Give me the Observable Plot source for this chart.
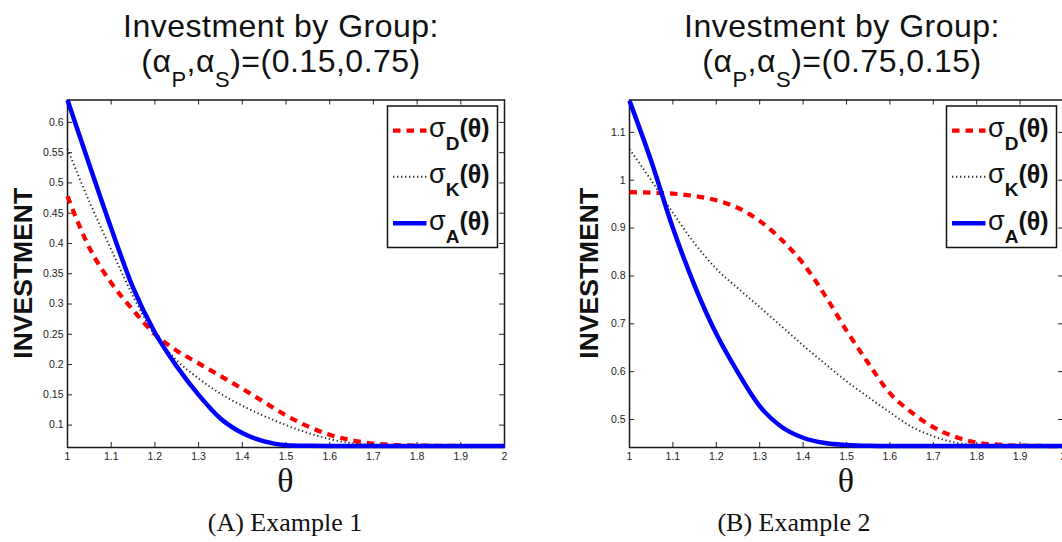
<!DOCTYPE html>
<html><head><meta charset="utf-8">
<script src="https://cdn.jsdelivr.net/npm/d3@7"></script>
<script src="https://cdn.jsdelivr.net/npm/@observablehq/plot@0.6"></script>
<style>
html,body{margin:0;padding:0;background:#fff;}
#wrap{position:relative;width:1062px;height:542px;overflow:hidden;background:#fff;}
.panel{position:absolute;top:90px;width:531px;}
.panel svg{max-width:none !important;}
#overlay{position:absolute;left:0;top:0;pointer-events:none;}
</style></head><body><div id="wrap"></div>
<script>
// ---- data ----
const theta = [1.00,1.05,1.10,1.15,1.20,1.25,1.30,1.35,1.40,1.45,1.50,1.55,1.60,1.65,1.70,1.75,1.80,1.85,1.90,1.95,2.00];

// Example 1: (alpha_P, alpha_S) = (0.15, 0.75)
const ex1D = [0.478,0.393,0.335,0.290,0.250,0.223,0.202,0.181,0.160,0.138,0.116,0.098,0.084,0.075,0.0695,0.067,0.0662,0.0658,0.0655,0.0655,0.0655];
const ex1K = [0.556,0.469,0.390,0.313,0.248,0.207,0.177,0.152,0.132,0.115,0.100,0.087,0.077,0.070,0.0675,0.0662,0.0657,0.0655,0.0655,0.0655,0.0655];
const ex1A = [0.637,0.530,0.425,0.327,0.253,0.197,0.150,0.111,0.087,0.073,0.0668,0.0658,0.0655,0.0655,0.0655,0.0655,0.0655,0.0655,0.0655,0.0655,0.0655];

// Example 2: (alpha_P, alpha_S) = (0.75, 0.15)
const ex2D = [0.975,0.974,0.972,0.967,0.958,0.942,0.915,0.876,0.826,0.760,0.686,0.618,0.555,0.515,0.484,0.464,0.452,0.4475,0.4455,0.4448,0.4445];
const ex2K = [1.065,1.000,0.932,0.868,0.815,0.774,0.735,0.695,0.655,0.617,0.580,0.547,0.515,0.485,0.465,0.452,0.4465,0.445,0.4445,0.4445,0.4445];
const ex2A = [1.166,1.040,0.900,0.780,0.679,0.598,0.528,0.485,0.462,0.451,0.4468,0.445,0.4445,0.4445,0.4445,0.4445,0.4445,0.4445,0.4445,0.4445,0.4445];

const xTicks = [1,1.1,1.2,1.3,1.4,1.5,1.6,1.7,1.8,1.9,2];
const yTicks1 = [0.1,0.15,0.2,0.25,0.3,0.35,0.4,0.45,0.5,0.55,0.6];
const yTicks2 = [0.5,0.6,0.7,0.8,0.9,1,1.1];
const yDomain1 = [0.063,0.637];
const yDomain2 = [0.4416,1.1676];

const alphaPairs = ["(0.15,0.75)","(0.75,0.15)"];
const captions = ["(A) Example 1","(B) Example 2"];
const yLabel = "INVESTMENT";
const xLabel = "θ";
const seriesKeys = ["D","K","A"];
const seriesColors = {D:"#ff0000", K:"#2a2a2a", A:"#0000ff"};
const seriesDash = {D:"7.5,6", K:"1.3,2.7", A:null};
const seriesWidth = {D:4.2, K:1.9, A:4.5};

// ---- layout ----
const W = 531, H = 420, MT = 9.5, MB = 63, ML = 67, TOP = 90;
const FONT = "'Liberation Sans', Arial, sans-serif";

function panel(series, yDomain, yTicks, mr) {
  const fh = H - MT - MB;
  const fw = W - ML - mr;
  const lineMarks = seriesKeys.map(k => {
    const rows = theta.map((t, i) => ({t, v: series[k][i]}));
    return Plot.line(rows, {
      x: "t", y: "v", curve: "monotone-x",
      stroke: seriesColors[k], strokeWidth: seriesWidth[k],
      strokeDasharray: seriesDash[k] || undefined,
      strokeLinecap: "butt"
    });
  });
  return Plot.plot({
    width: W, height: H,
    marginTop: MT, marginBottom: MB, marginLeft: ML, marginRight: mr,
    style: {fontFamily: FONT, fontSize: "10.5px", color: "#222", background: "transparent", overflow: "visible"},
    x: {domain: [1, 2]},
    y: {domain: yDomain},
    marks: [
      Plot.frame({stroke: "#1a1a1a", strokeWidth: 1.5}),
      Plot.tickX(xTicks, {x: d => d, insetTop: fh - 5, stroke: "#222"}),
      Plot.tickX(xTicks, {x: d => d, insetBottom: fh - 5, stroke: "#222"}),
      Plot.tickY(yTicks, {y: d => d, insetRight: fw - 5, stroke: "#222"}),
      Plot.tickY(yTicks, {y: d => d, insetLeft: fw - 5, stroke: "#222"}),
      Plot.axisX({ticks: xTicks, tickSize: 0, tickPadding: 5, tickFormat: d => String(d), label: null}),
      Plot.axisY({ticks: yTicks, tickSize: 0, tickPadding: 4, tickFormat: d => String(d), label: null}),
      ...lineMarks
    ]
  });
}

const wrap = document.getElementById("wrap");
const panels = [
  {series: {D: ex1D, K: ex1K, A: ex1A}, yDomain: yDomain1, yTicks: yTicks1, left: 0, mr: 27, yLabX: 22.5, titleX: 281, capX: 285},
  {series: {D: ex2D, K: ex2K, A: ex2A}, yDomain: yDomain2, yTicks: yTicks2, left: 562, mr: 30, yLabX: 588, titleX: 842, capX: 794}
];
panels.forEach(p => {
  const div = document.createElement("div");
  div.className = "panel";
  div.style.left = p.left + "px";
  div.appendChild(panel(p.series, p.yDomain, p.yTicks, p.mr));
  wrap.appendChild(div);
});

// ---- overlay: titles, axis labels, legends, captions ----
const NS = "http://www.w3.org/2000/svg";
const ov = document.createElementNS(NS, "svg");
ov.setAttribute("id", "overlay");
ov.setAttribute("width", 1062);
ov.setAttribute("height", 542);
wrap.appendChild(ov);
function el(tag, attrs, parent) {
  const e = document.createElementNS(NS, tag);
  for (const k in attrs) e.setAttribute(k, attrs[k]);
  (parent || ov).appendChild(e);
  return e;
}
function tspan(parent, txt, attrs) {
  const t = el("tspan", attrs || {}, parent);
  t.textContent = txt;
  return t;
}

panels.forEach((p, i) => {
  const frameLeft = p.left + ML, frameRight = p.left + W - p.mr;
  const frameTop = TOP + MT, frameBottom = TOP + H - MB;
  const frameMidY = (frameTop + frameBottom) / 2;
  const frameMidX = (frameLeft + frameRight) / 2;

  // title
  const t1 = el("text", {x: p.titleX, y: 37, "text-anchor": "middle", "font-family": FONT, "font-size": 32, fill: "#111", "letter-spacing": 0.5});
  t1.textContent = "Investment by Group:";
  const t2 = el("text", {x: p.titleX, y: 72, "text-anchor": "middle", "font-family": FONT, "font-size": 32, fill: "#111", "letter-spacing": 0.5});
  tspan(t2, "(α");
  tspan(t2, "P", {"font-size": 22, dy: 15});
  tspan(t2, ",α", {dy: -15});
  tspan(t2, "S", {"font-size": 22, dy: 15});
  tspan(t2, ")=" + alphaPairs[i], {dy: -15});

  // y label
  const yl = el("text", {transform: `translate(${p.yLabX},${frameMidY}) rotate(-90)`, x: 0, y: 9.5,
    "text-anchor": "middle", "font-family": FONT, "font-size": 26.5, "font-weight": "bold", fill: "#111"});
  yl.textContent = yLabel;

  // x label
  const xl = el("text", {x: frameMidX, y: 492, "text-anchor": "middle", "font-family": "'Liberation Serif', serif", "font-size": 34, fill: "#111"});
  xl.textContent = xLabel;

  // legend box
  const bx = frameRight - 116.5, by = 106, bw = 110, bh = 141.5;
  el("rect", {x: bx, y: by, width: bw, height: bh, fill: "#fff", stroke: "#111", "stroke-width": 1.5});
  const rowY = [24.7, 70.7, 117.3];
  seriesKeys.forEach((k, j) => {
    const yy = by + rowY[j];
    const ln = el("line", {x1: bx + 5.5, x2: bx + 39, y1: yy, y2: yy, stroke: seriesColors[k], "stroke-width": seriesWidth[k]});
    if (seriesDash[k]) ln.setAttribute("stroke-dasharray", seriesDash[k]);
    const tx = el("text", {x: bx + 41.5, y: yy + 6.5, "font-family": FONT, "font-size": 27, fill: "#111"});
    tspan(tx, "σ");
    tspan(tx, k, {"font-size": 19, "font-weight": "bold", dy: 13});
    tspan(tx, "(θ)", {"font-size": 25, "font-weight": "bold", dy: -13});
  });

  // caption
  const c = el("text", {x: p.capX, y: 531, "text-anchor": "middle", "font-family": "'Liberation Serif', serif", "font-size": 26, fill: "#111"});
  c.textContent = captions[i];
});
</script>
</body></html>
